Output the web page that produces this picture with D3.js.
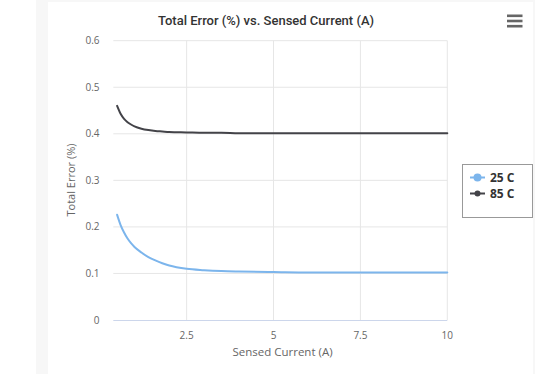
<!DOCTYPE html>
<html>
<head>
<meta charset="utf-8">
<script src="https://cdn.jsdelivr.net/npm/d3@7"></script>
<style>
html,body{margin:0;padding:0;background:#fff;}
svg{display:block;}
</style>
</head>
<body>
<svg id="c" width="535" height="374"></svg>
<script>
const current = [0.5,0.6,0.7,0.8,0.9,1.0,1.2,1.4,1.6,1.8,2.0,2.5,3.0,3.5,4.0,5.0,6.0,7.0,8.0,9.0,10.0];
const err25 = [0.226,0.204,0.188,0.175,0.165,0.157,0.145,0.135,0.128,0.122,0.117,0.110,0.107,0.105,0.104,0.103,0.102,0.102,0.102,0.102,0.102];
const err85 = [0.460,0.443,0.432,0.425,0.420,0.416,0.411,0.408,0.406,0.405,0.404,0.403,0.402,0.402,0.401,0.401,0.401,0.401,0.401,0.401,0.401];
const seriesNames = ["25 C","85 C"];
const seriesColors = ["#7cb5ec","#434348"];
const xTicks = [2.5,5,7.5,10];
const yTicks = [0,0.1,0.2,0.3,0.4,0.5,0.6];
const titleText = "Total Error (%) vs. Sensed Current (A)";
const xTitle = "Sensed Current (A)";
const yTitle = "Total Error (%)";

const svg = d3.select("#c");
const font = "'Open Sans', sans-serif";

// page frame
svg.append("rect").attr("x",36).attr("y",0).attr("width",499).attr("height",374).attr("fill","#f7f7f7");
svg.append("rect").attr("x",48).attr("y",2).attr("width",485).attr("height",372).attr("fill","#fff");

const L=113.3, R=447.3, T=40.7, B=320;
const x = d3.scaleLinear().domain([0.39,10]).range([L,R]);
const y = d3.scaleLinear().domain([0,0.6]).range([B,T]);

// grid
svg.append("g").selectAll("line").data(yTicks.filter(d=>d>0)).join("line")
  .attr("x1",L).attr("x2",R).attr("y1",d=>y(d)).attr("y2",d=>y(d))
  .attr("stroke","#e6e6e6").attr("stroke-width",1);
svg.append("g").selectAll("line").data(xTicks).join("line")
  .attr("x1",d=>x(d)).attr("x2",d=>x(d)).attr("y1",T).attr("y2",B)
  .attr("stroke","#e6e6e6").attr("stroke-width",1);
// x axis line
svg.append("line").attr("x1",L).attr("x2",R).attr("y1",B+0.5).attr("y2",B+0.5)
  .attr("stroke","#ccd6eb").attr("stroke-width",1);

// tick labels
svg.append("g").selectAll("text").data(yTicks).join("text")
  .attr("x",99.5).attr("y",d=>y(d)).attr("dy","0.35em").attr("text-anchor","end")
  .attr("font-family",font).attr("font-size",10).attr("fill","#666")
  .text(d=>d3.format("")(d));
svg.append("g").selectAll("text").data(xTicks).join("text")
  .attr("x",d=>x(d)).attr("y",335).attr("dy","0.35em").attr("text-anchor","middle")
  .attr("font-family",font).attr("font-size",10).attr("fill","#666")
  .text(d=>d3.format("")(d));

// axis titles
svg.append("text").attr("x",282.5).attr("y",352).attr("dy","0.35em").attr("text-anchor","middle")
  .attr("font-family",font).attr("font-size",11.5).attr("fill","#666").text(xTitle);
svg.append("text").attr("transform","translate(71,180) rotate(-90)").attr("dy","0.35em").attr("text-anchor","middle")
  .attr("font-family",font).attr("font-size",11).attr("fill","#666").text(yTitle);

// title
svg.append("text").attr("x",266).attr("y",20).attr("dy","0.35em").attr("text-anchor","middle")
  .attr("font-family","Roboto, sans-serif").attr("font-size",13).attr("font-weight",500).attr("fill","#333").text(titleText);

// lines
const line = d3.line().x(d=>x(d[0])).y(d=>y(d[1])).curve(d3.curveMonotoneX);
[err25, err85].forEach((vals,i)=>{
  svg.append("path").datum(current.map((c,j)=>[c,vals[j]]))
    .attr("d",line).attr("fill","none").attr("stroke",seriesColors[i]).attr("stroke-width",2)
    .attr("stroke-linejoin","round").attr("stroke-linecap","round");
});

// legend
svg.append("rect").attr("x",462.5).attr("y",164.5).attr("width",70).attr("height",53)
  .attr("fill","#fff").attr("stroke","#999").attr("stroke-width",1);
const lg = svg.append("g").selectAll("g").data(seriesNames).join("g")
  .attr("transform",(d,i)=>`translate(0,${177.5+i*16})`);
lg.append("line").attr("x1",470).attr("x2",485).attr("y1",0).attr("y2",0)
  .attr("stroke",(d,i)=>seriesColors[i]).attr("stroke-width",2);
lg.append("circle").attr("cx",477.5).attr("cy",0).attr("r",(d,i)=>i===0?4:3).attr("fill",(d,i)=>seriesColors[i]);
lg.append("text").attr("x",490).attr("y",0).attr("dy","0.35em")
  .attr("font-family",font).attr("font-size",12).attr("font-weight","bold").attr("fill","#333").text(d=>d);

// menu icon
svg.append("g").selectAll("rect").data([0,1,2]).join("rect")
  .attr("x",507).attr("y",d=>14.5+d*5.2).attr("width",15.5).attr("height",2.6).attr("fill","#666");
</script>
</body>
</html>
